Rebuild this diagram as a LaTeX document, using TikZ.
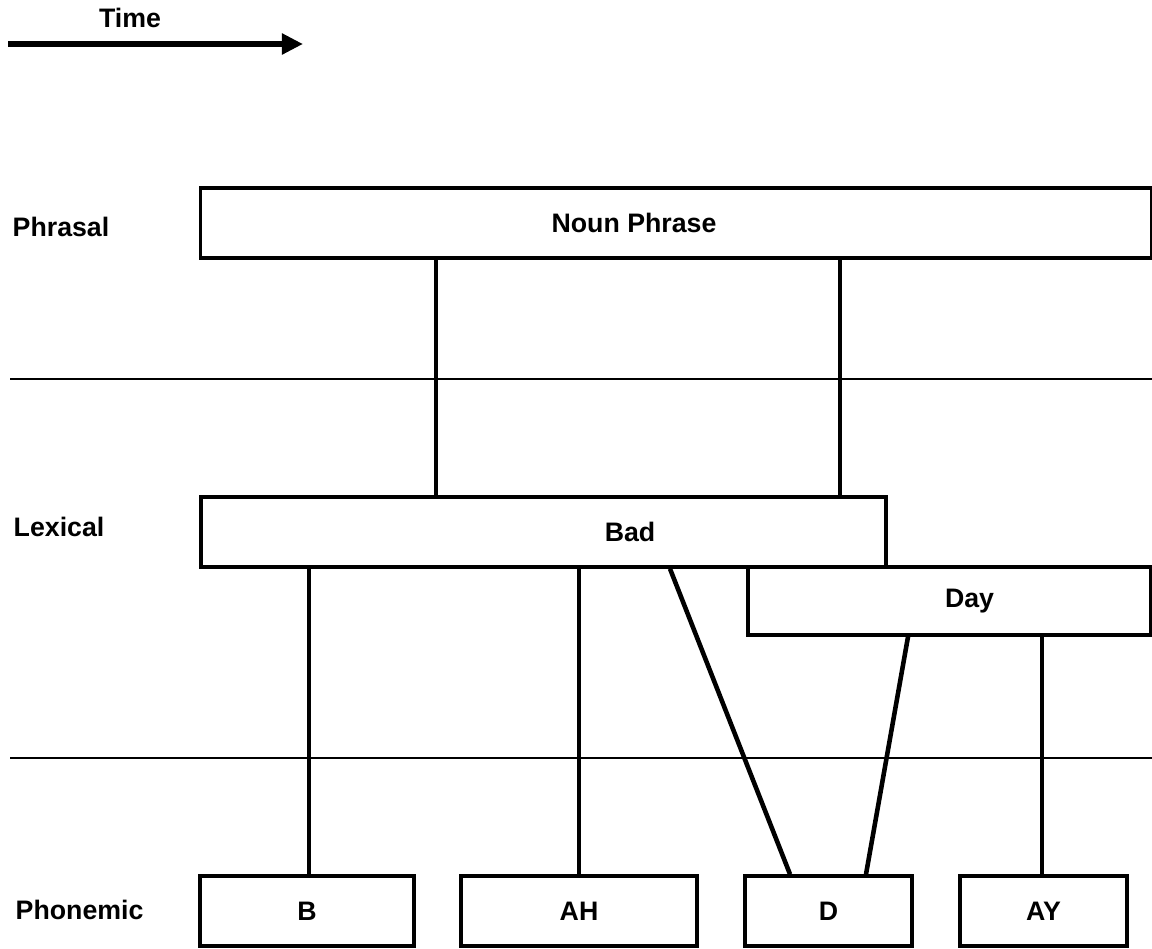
\documentclass[tikz,border=0pt]{standalone}
\usepackage{fontspec}
\setmainfont{Liberation Sans}
\usetikzlibrary{arrows.meta}
\tikzstyle{unit} = [rectangle, draw=black, line width=1pt, inner sep=0pt, minimum height=0.7cm]
\tikzstyle{txt} = [font=\bfseries\fontsize{7.6}{9}\selectfont, inner sep=0pt]
\tikzstyle{level} = [txt, anchor=west]
\tikzstyle{link} = [line width=1.3pt]
\tikzstyle{rule} = [line width=0.7pt]
\tikzstyle{arrow} = [line width=1.6pt, -{Triangle[length=6pt, width=5.7pt]}]

\begin{document}
\begin{tikzpicture}[x=0.01cm, y=-0.01cm]
	\useasboundingbox (0,0) rectangle (1152,948);
	% time axis
	\node(time) [txt] at (130,18) {Time};
	\coordinate (t0) at (8,44);
	\coordinate (t1) at (303,44);
	\draw[arrow] (t0) -- (t1);
	
	% levels
	\node(phrasal) [level] at (12,227) {Phrasal};
	\node(lexical) [level] at (13,527) {Lexical};
	\node(phonemic) [level] at (15,910) {Phonemic};
	
	\coordinate (r1a) at (10,379);
	\coordinate (r1b) at (1152,379);
	\coordinate (r2a) at (10,758);
	\coordinate (r2b) at (1152,758);
	\draw[rule] (r1a) -- (r1b);
	\draw[rule] (r2a) -- (r2b);
	
	% units
	\node(np) [unit, minimum width=9.5cm, label={[txt, xshift=-0.42cm]center:Noun Phrase}] at (676,223) {};
	\node(bad) [unit, minimum width=6.85cm, label={[txt, xshift=0.865cm]center:Bad}] at (543.5,532) {};
	\node(day) [unit, minimum width=4.03cm, minimum height=0.68cm, label={[txt, xshift=0.2cm]center:Day}] at (949.5,601) {};
	\node(b) [unit, minimum width=2.14cm, txt] at (307,911) {B};
	\node(ah) [unit, minimum width=2.36cm, txt] at (579,911) {AH};
	\node(d) [unit, minimum width=1.67cm, txt] at (828.5,911) {D};
	\node(ay) [unit, minimum width=1.67cm, txt] at (1043.5,911) {AY};
	
	\draw[link] (436,0 |- np.south) -- (436,0 |- bad.north);
	\draw[link] (840,0 |- np.south) -- (840,0 |- bad.north);
	\draw[link] (309,0 |- bad.south) -- (309,0 |- b.north);
	\draw[link] (579,0 |- bad.south) -- (579,0 |- ah.north);
	\draw[link] (670,0 |- bad.south) -- (790,0 |- d.north);
	\draw[link] (908,0 |- day.south) -- (866,0 |- d.north);
	\draw[link] (1042,0 |- day.south) -- (1042,0 |- ay.north);
\end{tikzpicture}
\end{document}
